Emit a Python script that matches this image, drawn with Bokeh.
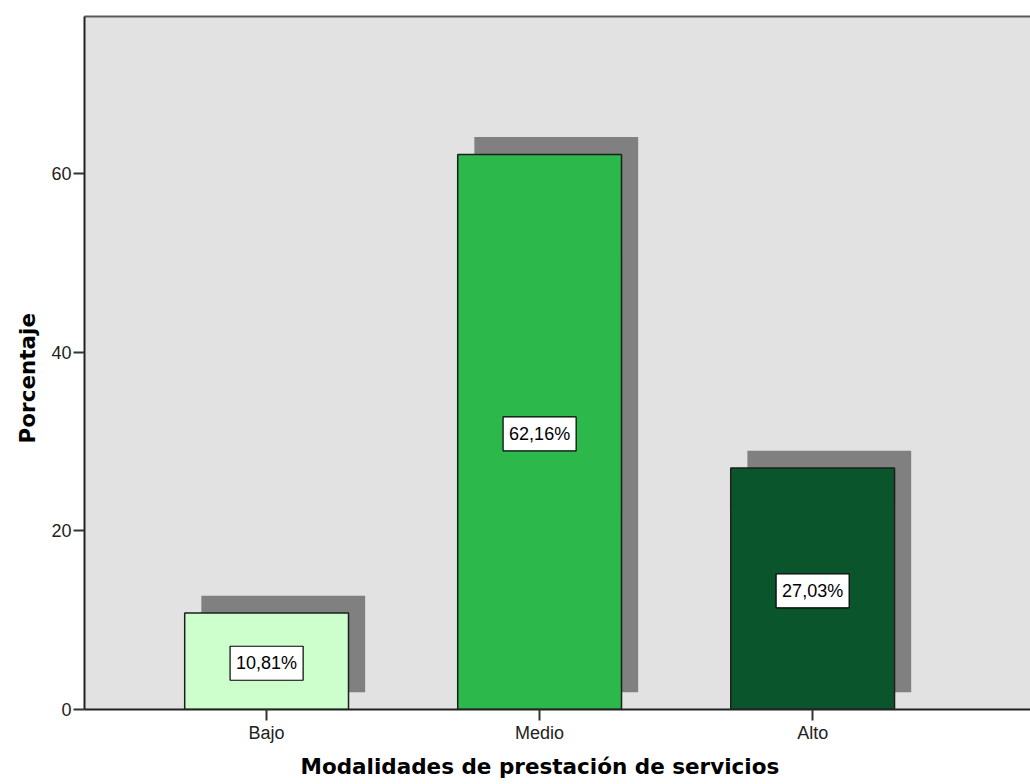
from bokeh.plotting import figure
from bokeh.models import Range1d, FixedTicker, LinearAxis, Title, ColumnDataSource
from bokeh.core.properties import value
from bokeh.embed import file_html
from bokeh.resources import INLINE

categories = ["Bajo", "Medio", "Alto"]
percentages = [10.81, 62.16, 27.03]
label_texts = ["10,81%", "62,16%", "27,03%"]
bar_colors = ["#CCFFCC", "#2DB84B", "#0B552D"]
y_ticks = [0, 20, 40, 60]

x_title = "Modalidades de prestación de servicios"
y_title = "Porcentaje"

x_pos = list(range(len(categories)))
BAR_W = 0.6
SH_DX = 0.061   # shadow offset (category units)
SH_DY = 1.94    # shadow offset (percentage units)

src = ColumnDataSource(dict(
    x=x_pos,
    top=percentages,
    color=bar_colors,
    label=label_texts,
    mid=[v / 2 for v in percentages],
    sx=[x + SH_DX for x in x_pos],
    stop=[v + SH_DY for v in percentages],
    sbottom=[SH_DY] * len(percentages),
))

p = figure(width=1030, height=784, output_backend="svg", toolbar_location=None,
           x_range=Range1d(-0.667, 2.798), y_range=Range1d(0, 77.6),
           min_border_left=84, min_border_right=0, min_border_top=16,
           min_border_bottom=75, x_axis_location=None, y_axis_location=None)

p.background_fill_color = "#E2E2E2"
p.border_fill_color = "white"
p.outline_line_color = None
p.grid.visible = False

# shadows
p.vbar(x="sx", top="stop", bottom="sbottom", width=BAR_W, source=src,
       fill_color="#808080", line_color=None)
# bars
p.vbar(x="x", top="top", bottom=0, width=BAR_W, source=src,
       fill_color="color", line_color="#1E1E1E", line_width=1.5)
# value labels
p.text(x="x", y="mid", text="label", source=src, y_offset=2,
       text_align="center", text_baseline="middle",
       text_font=value("Liberation Sans"), text_font_size="18px", text_color="black",
       background_fill_color="white", border_line_color="black", border_line_width=1.2,
       padding=(6, 7))

xaxis = LinearAxis(ticker=FixedTicker(ticks=x_pos),
                   major_label_overrides={i: c for i, c in zip(x_pos, categories)})
yaxis = LinearAxis(ticker=FixedTicker(ticks=y_ticks))
topaxis = LinearAxis(ticker=FixedTicker(ticks=[]))

for ax in (xaxis, yaxis):
    ax.axis_line_color = "#222222"
    ax.axis_line_width = 2
    ax.major_tick_line_color = "#333333"
    ax.major_tick_line_width = 2
    ax.major_tick_in = 0
    ax.major_tick_out = 11
    ax.minor_tick_line_color = None
    ax.major_label_text_font = "Liberation Sans"
    ax.major_label_text_font_size = "18px"
    ax.major_label_text_color = "#222222"
xaxis.major_label_standoff = 2
yaxis.major_label_standoff = 2

topaxis.axis_line_color = "#5A5A5A"
topaxis.axis_line_width = 2
topaxis.major_tick_line_color = None
topaxis.minor_tick_line_color = None
topaxis.major_label_text_font_size = "0px"
topaxis.major_label_standoff = 0

p.add_layout(xaxis, "below")
p.add_layout(yaxis, "left")
p.add_layout(topaxis, "above")

xt = Title(text=x_title, align="left", offset=216, standoff=12,
           text_font="DejaVu Sans", text_font_size="21.5px", text_font_style="bold",
           text_color="black")
p.add_layout(xt, "below")

yt = Title(text=y_title, align="left", offset=266, standoff=18,
           text_font="DejaVu Sans", text_font_size="21.5px", text_font_style="bold",
           text_color="black")
p.add_layout(yt, "left")

open("out.html", "w").write(file_html(p, INLINE))
